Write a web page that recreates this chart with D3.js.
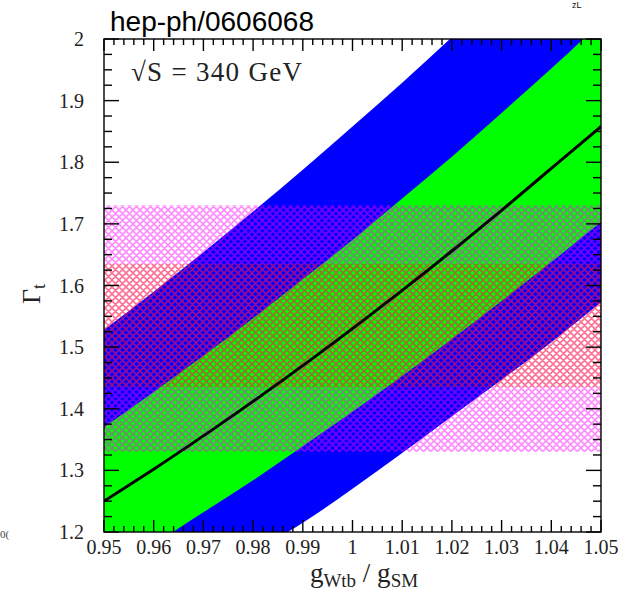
<!DOCTYPE html>
<html>
<head>
<meta charset="utf-8">
<script src="https://cdn.jsdelivr.net/npm/d3@7"></script>
<style>
  body { margin: 0; background: #fff; }
  svg { display: block; }
</style>
</head>
<body>
<svg id="chart" width="632" height="594"></svg>
<script>
// Coupling ratio g_Wtb / g_SM sampled across the plotted range
const couplings   = [0.95, 0.96, 0.97, 0.98, 0.99, 1.00, 1.01, 1.02, 1.03, 1.04, 1.05];
// Top width Γ_t versus coupling (central curve)
const widthCentral = [1.25, 1.302, 1.356, 1.412, 1.470, 1.530, 1.592, 1.656, 1.722, 1.790, 1.858];
// Inner (green) band edges
const greenLow  = [1.131, 1.180, 1.232, 1.284, 1.339, 1.395, 1.453, 1.513, 1.575, 1.638, 1.703];
const greenHigh = [1.370, 1.427, 1.486, 1.547, 1.610, 1.674, 1.741, 1.809, 1.880, 1.952, 2.027];
// Outer (blue) band edges
const blueLow   = [1.03, 1.072, 1.119, 1.167, 1.215, 1.27, 1.328, 1.388, 1.447, 1.508, 1.573];
const blueHigh  = [1.528, 1.590, 1.654, 1.720, 1.788, 1.858, 1.929, 2.003, 2.079, 2.157, 2.238];
// Measured width bands (hatched): outer and inner ranges of Γ_t
const hatchOuter = [1.33, 1.73];
const hatchInner = [1.435, 1.635];
// Axis tick labels
const xTickLabels = ["0.95", "0.96", "0.97", "0.98", "0.99", "1", "1.01", "1.02", "1.03", "1.04", "1.05"];
const yTickLabels = ["1.2", "1.3", "1.4", "1.5", "1.6", "1.7", "1.8", "1.9", "2"];

const xMajor = xTickLabels.map(Number);
const yMajor = yTickLabels.map(Number);

const svg = d3.select("#chart");
const x = d3.scaleLinear().domain([0.95, 1.05]).range([104, 601]);
const y = d3.scaleLinear().domain([1.2, 2.0]).range([532, 39]);
const [x0, x1] = x.range();
const [y0, y1] = y.range();

const defs = svg.append("defs");
defs.append("clipPath").attr("id", "frameClip")
  .append("rect").attr("x", x0).attr("y", y1).attr("width", x1 - x0).attr("height", y0 - y1);

// Cross-hatch fill patterns
function crossHatch(id, color, opacity) {
  const p = defs.append("pattern").attr("id", id)
    .attr("patternUnits", "userSpaceOnUse").attr("width", 7).attr("height", 7);
  p.append("path")
    .attr("d", "M-8,-1L1,8M-1,-1L8,8M6,-1L15,8M-8,8L1,-1M-1,8L8,-1M6,8L15,-1")
    .attr("fill", "none").attr("stroke", color)
    .attr("stroke-width", 1.6).attr("stroke-opacity", opacity);
}
crossHatch("hatchPink", "#ff00ff", 0.45);
crossHatch("hatchRed", "#ff1050", 0.6);

const plot = svg.append("g").attr("clip-path", "url(#frameClip)");

const band = (lo, hi) => d3.area()
  .x((d, i) => x(couplings[i]))
  .y0((d, i) => y(lo[i]))
  .y1((d, i) => y(hi[i]))
  .curve(d3.curveNatural);

plot.append("path").datum(couplings).attr("d", band(blueLow, blueHigh)).attr("fill", "#0000ff");
plot.append("path").datum(couplings).attr("d", band(greenLow, greenHigh)).attr("fill", "#00ff00");

// Hatched horizontal bands of the measured width
const hatchRect = (lo, hi, fill) => plot.append("rect")
  .attr("x", x0).attr("width", x1 - x0)
  .attr("y", y(hi)).attr("height", y(lo) - y(hi))
  .attr("fill", fill);
hatchRect(hatchInner[1], hatchOuter[1], "url(#hatchPink)");
hatchRect(hatchOuter[0], hatchInner[0], "url(#hatchPink)");
hatchRect(hatchInner[0], hatchInner[1], "url(#hatchRed)");

// Central curve
plot.append("path").datum(couplings)
  .attr("d", d3.line().x((d, i) => x(couplings[i])).y((d, i) => y(widthCentral[i])).curve(d3.curveNatural))
  .attr("fill", "none").attr("stroke", "#000").attr("stroke-width", 3);

// Frame and inward ticks on all four sides
const axes = svg.append("g").attr("stroke", "#000").attr("stroke-width", 1.4).attr("fill", "none");
axes.append("rect").attr("x", x0).attr("y", y1).attr("width", x1 - x0).attr("height", y0 - y1);

const xMinor = d3.range(0, 51).map(i => 0.95 + i * 0.002).filter((v, i) => i % 5 !== 0);
const yMinor = d3.range(0, 33).map(i => 1.2 + i * 0.025).filter((v, i) => i % 4 !== 0);

function tickSet(values, len, horizontal) {
  values.forEach(v => {
    if (horizontal) {
      const px = x(v);
      axes.append("line").attr("x1", px).attr("x2", px).attr("y1", y0).attr("y2", y0 - len);
      axes.append("line").attr("x1", px).attr("x2", px).attr("y1", y1).attr("y2", y1 + len);
    } else {
      const py = y(v);
      axes.append("line").attr("y1", py).attr("y2", py).attr("x1", x0).attr("x2", x0 + len);
      axes.append("line").attr("y1", py).attr("y2", py).attr("x1", x1).attr("x2", x1 - len);
    }
  });
}
tickSet(xMajor, 12, true);
tickSet(xMinor, 6, true);
tickSet(yMajor, 15, false);
tickSet(yMinor, 8, false);

const serif = "'Liberation Serif', 'Times New Roman', serif";

svg.append("g").selectAll("text").data(xTickLabels).join("text")
  .attr("x", d => x(+d)).attr("y", 554)
  .attr("text-anchor", "middle")
  .attr("font-family", serif).attr("font-size", 20).attr("fill", "#222")
  .text(d => d);

svg.append("g").selectAll("text").data(yTickLabels).join("text")
  .attr("x", 84).attr("y", d => y(+d) + 7)
  .attr("text-anchor", "end")
  .attr("font-family", serif).attr("font-size", 20).attr("fill", "#222")
  .text(d => d);

// Axis titles
const xt = svg.append("text").attr("x", 364).attr("y", 582).attr("text-anchor", "middle")
  .attr("font-family", serif).attr("font-size", 27).attr("fill", "#222");
xt.append("tspan").text("g");
xt.append("tspan").attr("font-size", 19).attr("dy", 5).text("Wtb");
xt.append("tspan").attr("dy", -5).text(" / g");
xt.append("tspan").attr("font-size", 19).attr("dy", 5).text("SM");

const yt = svg.append("text").attr("transform", "translate(40,294) rotate(-90)")
  .attr("text-anchor", "middle")
  .attr("font-family", serif).attr("font-size", 26).attr("fill", "#222");
yt.append("tspan").text("Γ");
yt.append("tspan").attr("font-size", 18).attr("dy", 5).text("t");

// Energy annotation
svg.append("text").attr("x", 131).attr("y", 81)
  .attr("font-family", serif).attr("font-size", 27).attr("fill", "#222")
  .attr("textLength", 171).attr("lengthAdjust", "spacing")
  .text("√S = 340 GeV");

// Preprint tag
svg.append("text").attr("x", 110).attr("y", 31)
  .attr("font-family", "'Liberation Sans', Arial, sans-serif").attr("font-size", 28).attr("fill", "#000")
  .text("hep-ph/0606068");

// Small marks of neighbouring text at the page edges
svg.append("text").attr("x", 572).attr("y", 8)
  .attr("font-family", "'Liberation Sans', Arial, sans-serif").attr("font-size", 9).attr("fill", "#111")
  .text("zL");
svg.append("text").attr("x", 0).attr("y", 538)
  .attr("font-family", serif).attr("font-size", 11).attr("fill", "#444")
  .text("0(");
</script>
</body>
</html>
